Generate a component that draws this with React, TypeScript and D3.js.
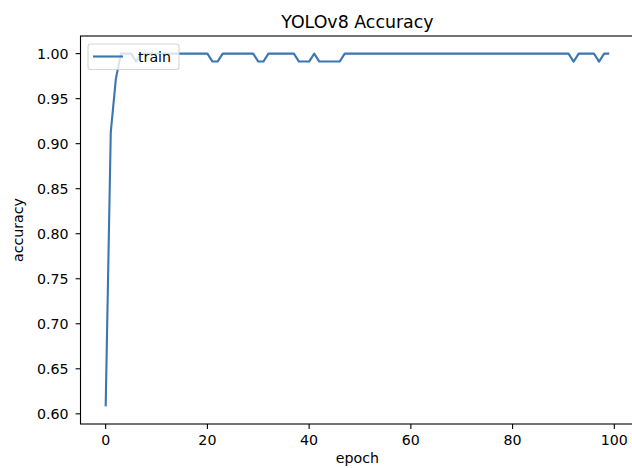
import React from "react";
import * as d3 from "d3";

const epochs: number[] = d3.range(0, 100);
const accuracy: number[] = [
  0.6083, 0.9125, 0.972, 1.0, 1.0, 1.0, 0.9912, 1.0, 1.0, 1.0,
  1.0, 1.0, 1.0, 1.0, 1.0, 1.0, 1.0, 1.0, 1.0, 1.0,
  1.0, 0.9912, 0.9912, 1.0, 1.0, 1.0, 1.0, 1.0, 1.0, 1.0,
  0.9912, 0.9912, 1.0, 1.0, 1.0, 1.0, 1.0, 1.0, 0.9912, 0.9912,
  0.9912, 1.0, 0.9912, 0.9912, 0.9912, 0.9912, 0.9912, 1.0, 1.0, 1.0,
  1.0, 1.0, 1.0, 1.0, 1.0, 1.0, 1.0, 1.0, 1.0, 1.0,
  1.0, 1.0, 1.0, 1.0, 1.0, 1.0, 1.0, 1.0, 1.0, 1.0,
  1.0, 1.0, 1.0, 1.0, 1.0, 1.0, 1.0, 1.0, 1.0, 1.0,
  1.0, 1.0, 1.0, 1.0, 1.0, 1.0, 1.0, 1.0, 1.0, 1.0,
  1.0, 1.0, 0.9912, 1.0, 1.0, 1.0, 1.0, 0.9912, 1.0, 1.0,
];
const xTicks: number[] = [0, 20, 40, 60, 80, 100];
const yTicks: number[] = [0.6, 0.65, 0.7, 0.75, 0.8, 0.85, 0.9, 0.95, 1.0];
const title = "YOLOv8 Accuracy";
const xLabel = "epoch";
const yLabel = "accuracy";
const seriesName = "train";

const W = 632;
const H = 468;
const left = 80.5;
const right = 634.4;
const top = 36;
const bottom = 424;
const font = "'DejaVu Sans', sans-serif";
const lineColor = "#3a76af";
const fs = 14.2;

export default function App() {
  const xMin = d3.min(epochs)!;
  const xMax = d3.max(epochs)!;
  const yMin = d3.min(accuracy)!;
  const yMax = d3.max(accuracy)!;
  const xPad = (xMax - xMin) * 0.05;
  const yPad = (yMax - yMin) * 0.05;
  const x = d3.scaleLinear().domain([xMin - xPad, xMax + xPad]).range([left, right]);
  const y = d3.scaleLinear().domain([yMin - yPad, yMax + yPad]).range([bottom, top]);
  const line = d3
    .line<number>()
    .x((_, i) => x(epochs[i]))
    .y((d) => y(d));
  const fmt = d3.format(".2f");
  return (
    <svg
      width={W}
      height={H}
      style={{ position: "absolute", left: 0, top: 0, background: "#fff" }}
      fontFamily={font}
    >
      <rect x={0} y={0} width={W} height={H} fill="#fff" />
      <text x={(left + right) / 2} y={27.5} textAnchor="middle" fontSize={17.4} fill="#000">
        {title}
      </text>
      <path d={line(accuracy) || ""} fill="none" stroke={lineColor} strokeWidth={2.1} strokeLinejoin="round" strokeLinecap="butt" />
      <rect x={left} y={top} width={right - left} height={bottom - top} fill="none" stroke="#000" strokeWidth={1.1} />
      {xTicks.map((t) => (
        <g key={"x" + t}>
          <line x1={x(t)} x2={x(t)} y1={bottom} y2={bottom + 4.9} stroke="#000" strokeWidth={1.1} />
          <text x={x(t)} y={bottom + 20.5} textAnchor="middle" fontSize={fs} fill="#000">
            {t}
          </text>
        </g>
      ))}
      {yTicks.map((t) => (
        <g key={"y" + t}>
          <line x1={left - 4.9} x2={left} y1={y(t)} y2={y(t)} stroke="#000" strokeWidth={1.1} />
          <text x={left - 12} y={y(t) + 5} textAnchor="end" fontSize={fs} fill="#000">
            {fmt(t)}
          </text>
        </g>
      ))}
      <text x={(left + right) / 2} y={462.5} textAnchor="middle" fontSize={fs} fill="#000">
        {xLabel}
      </text>
      <text
        transform={`translate(23, ${(top + bottom) / 2}) rotate(-90)`}
        textAnchor="middle"
        fontSize={fs}
        fill="#000"
      >
        {yLabel}
      </text>
      <g>
        <rect x={88} y={44} width={91} height={25.5} rx={2.8} fill="#fff" fillOpacity={0.8} stroke="#cccccc" strokeOpacity={0.8} strokeWidth={1.1} />
        <line x1={93} x2={123} y1={56.5} y2={56.5} stroke={lineColor} strokeWidth={2.1} />
        <text x={138} y={61.5} fontSize={fs} fill="#000">
          {seriesName}
        </text>
      </g>
    </svg>
  );
}
